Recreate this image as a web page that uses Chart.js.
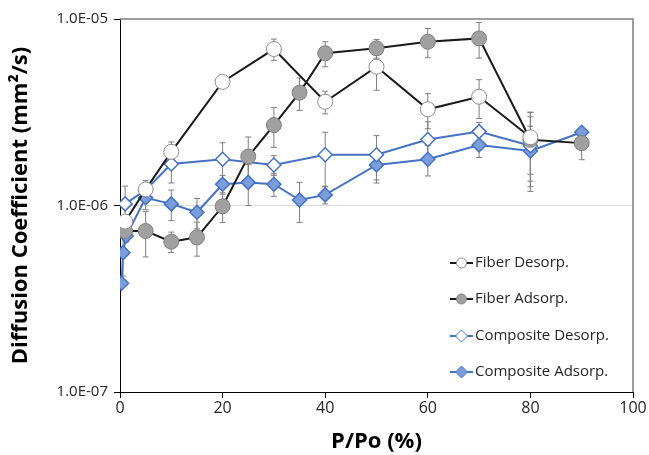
<!DOCTYPE html>
<html>
<head>
<meta charset="utf-8">
<script src="https://cdn.jsdelivr.net/npm/chart.js@4"></script>
<style>
  html, body { margin: 0; padding: 0; background: #fff; }
  #wrap { width: 649px; height: 455px; }
</style>
</head>
<body>
<div id="wrap"><canvas id="chart-diffusion" width="649" height="455"></canvas></div>
<script>
// data (P/Po in %, D in mm2/s, err = +/- bar)
const fiberDesX   = [1, 5, 10, 20, 30, 40, 50, 60, 70, 80];
const fiberDesY   = [8.2e-7, 1.22e-6, 1.94e-6, 4.6e-6, 6.9e-6, 3.6e-6, 5.55e-6, 3.28e-6, 3.83e-6, 2.32e-6];
const fiberDesErr = [0.5e-7, 0.14e-6, 0.25e-6, 0, 0.9e-6, 0.5e-6, 1.4e-6, 0.7e-6, 0.9e-6, 0.85e-6];

const fiberAdsX   = [1, 5, 10, 15, 20, 25, 30, 35, 40, 50, 60, 70, 80, 90];
const fiberAdsY   = [7.3e-7, 7.3e-7, 6.4e-7, 6.75e-7, 9.9e-7, 1.83e-6, 2.7e-6, 4.03e-6, 6.55e-6, 6.96e-6, 7.55e-6, 7.87e-6, 2.25e-6, 2.16e-6];
const fiberAdsErr = [0.4e-7, 2.0e-7, 0.8e-7, 1.4e-7, 1.8e-7, 0.5e-6, 0.65e-6, 0.8e-6, 1.0e-6, 0.8e-6, 1.35e-6, 1.7e-6, 0.9e-6, 0.4e-6];

const compDesX    = [1, 5, 10, 20, 30, 40, 50, 60, 70, 80];
const compDesY    = [1.02e-6, 1.21e-6, 1.67e-6, 1.77e-6, 1.65e-6, 1.87e-6, 1.87e-6, 2.26e-6, 2.49e-6, 2.09e-6];
const compDesErr  = [0.25e-6, 0.1e-6, 0.35e-6, 0.4e-6, 0.2e-6, 0.6e-6, 0.5e-6, 0.55e-6, 0.3e-6, 0.9e-6];

const compAdsX    = [0.3, 0.6, 1.2, 5, 10, 15, 20, 25, 30, 35, 40, 50, 60, 70, 80, 90];
const compAdsY    = [3.83e-7, 5.58e-7, 6.86e-7, 1.1e-6, 1.02e-6, 9.2e-7, 1.3e-6, 1.33e-6, 1.3e-6, 1.07e-6, 1.14e-6, 1.65e-6, 1.77e-6, 2.11e-6, 1.96e-6, 2.47e-6];
const compAdsErr  = [0, 1.4e-7, 0.5e-7, 0.15e-6, 0.19e-6, 0.17e-6, 0.15e-6, 0.33e-6, 0.18e-6, 0.26e-6, 0.12e-6, 0.33e-6, 0.33e-6, 0.3e-6, 0.7e-6, 0];

const seriesNames = ['Fiber Desorp.', 'Fiber Adsorp.', 'Composite Desorp.', 'Composite Adsorp.'];
const xTicks = [0, 20, 40, 60, 80, 100];
const yTicks = [1e-7, 1e-6, 1e-5];

function toPoints(xs, ys) {
    return xs.map((x, i) => ({ x: x, y: ys[i] }));
}

function fmtSci(v) {
    const e = Math.round(Math.log10(v));
    const m = v / Math.pow(10, e);
    const s = Math.abs(e) < 10 ? '0' + Math.abs(e) : '' + Math.abs(e);
    return m.toFixed(1) + 'E' + (e < 0 ? '-' : '+') + s;
}

// error bars, drawn under the markers
const errorBars = {
    id: 'errorBars',
    beforeDatasetsDraw(chart) {
        const ctx = chart.ctx;
        const xs = chart.scales.x, ys = chart.scales.y;
        ctx.save();
        ctx.strokeStyle = '#7f7f7f';
        ctx.lineWidth = 1;
        chart.data.datasets.forEach(ds => {
            ds.data.forEach((p, i) => {
                const e = ds.errs[i];
                if (!e) return;
                const px = xs.getPixelForValue(p.x);
                const top = ys.getPixelForValue(p.y + e);
                const bot = ys.getPixelForValue(Math.max(p.y - e, 1e-8));
                ctx.beginPath();
                ctx.moveTo(px, top); ctx.lineTo(px, bot);
                ctx.moveTo(px - 3, top); ctx.lineTo(px + 3, top);
                ctx.moveTo(px - 3, bot); ctx.lineTo(px + 3, bot);
                ctx.stroke();
            });
        });
        ctx.restore();
    }
};

// frame on top/right + legend inside the plot
const frameLegend = {
    id: 'frameLegend',
    afterDraw(chart) {
        const ctx = chart.ctx;
        const a = chart.chartArea;
        ctx.save();
        ctx.strokeStyle = '#7f7f7f';
        ctx.lineWidth = 1.5;
        ctx.beginPath();
        ctx.moveTo(a.left, a.top); ctx.lineTo(a.right, a.top); ctx.lineTo(a.right, a.bottom);
        ctx.stroke();

        const lx = 450, rows = [263, 299, 336, 372];
        ctx.font = '15px "Open Sans"';
        ctx.textBaseline = 'middle';
        chart.data.datasets.forEach((ds, i) => {
            const y = rows[i];
            ctx.strokeStyle = ds.borderColor;
            ctx.lineWidth = 2;
            ctx.beginPath(); ctx.moveTo(lx, y); ctx.lineTo(lx + 23, y); ctx.stroke();
            ctx.fillStyle = ds.pointBackgroundColor;
            ctx.strokeStyle = ds.pointBorderColor;
            ctx.lineWidth = 1;
            ctx.beginPath();
            if (ds.pointStyle === 'circle') {
                ctx.arc(lx + 11.5, y, 5, 0, Math.PI * 2);
            } else {
                ctx.moveTo(lx + 11.5, y - 6); ctx.lineTo(lx + 17.5, y);
                ctx.lineTo(lx + 11.5, y + 6); ctx.lineTo(lx + 5.5, y); ctx.closePath();
            }
            ctx.fill(); ctx.stroke();
            ctx.fillStyle = '#262626';
            ctx.fillText(ds.label, lx + 25, y);
        });
        ctx.restore();
    }
};

const ctxD = document.getElementById('chart-diffusion').getContext('2d');
const chart_diffusion = new Chart(ctxD, {
    type: 'line',
    data: {
        datasets: [{
            label: seriesNames[0],
            data: toPoints(fiberDesX, fiberDesY),
            errs: fiberDesErr,
            borderColor: '#1a1a1a',
            borderWidth: 2,
            pointStyle: 'circle',
            pointRadius: 7.5,
            pointBackgroundColor: '#ffffff',
            pointBorderColor: '#8c8c8c',
            pointBorderWidth: 1
        }, {
            label: seriesNames[1],
            data: toPoints(fiberAdsX, fiberAdsY),
            errs: fiberAdsErr,
            borderColor: '#1a1a1a',
            borderWidth: 2,
            pointStyle: 'circle',
            pointRadius: 7.5,
            pointBackgroundColor: '#a0a0a0',
            pointBorderColor: '#808080',
            pointBorderWidth: 1
        }, {
            label: seriesNames[2],
            data: toPoints(compDesX, compDesY),
            errs: compDesErr,
            borderColor: '#4472c4',
            borderWidth: 2,
            pointStyle: 'rectRot',
            pointRadius: 7,
            pointBackgroundColor: '#ffffff',
            pointBorderColor: '#4472c4',
            pointBorderWidth: 1.5
        }, {
            label: seriesNames[3],
            data: toPoints(compAdsX, compAdsY),
            errs: compAdsErr,
            borderColor: '#4472c4',
            borderWidth: 2,
            pointStyle: 'rectRot',
            pointRadius: 7,
            pointBackgroundColor: '#7b9ddb',
            pointBorderColor: '#4472c4',
            pointBorderWidth: 1.5
        }]
    },
    options: {
        responsive: false,
        animation: false,
        layout: { padding: { top: 19, right: 16, left: 8, bottom: 0 } },
        plugins: {
            legend: { display: false },
            tooltip: { enabled: false }
        },
        scales: {
            x: {
                type: 'linear',
                min: 0,
                max: 100,
                afterBuildTicks: s => { s.ticks = xTicks.map(v => ({ value: v })); },
                afterFit: s => { s.height = 63; },
                grid: { drawOnChartArea: false, drawTicks: true, tickLength: 6, tickColor: '#000' },
                border: { color: '#000', width: 1 },
                ticks: { color: '#262626', font: { family: 'Open Sans', size: 16 }, padding: 1 },
                title: {
                    display: true,
                    text: 'P/Po (%)',
                    color: '#000',
                    font: { family: 'Open Sans', size: 22, weight: 'bold' },
                    padding: { top: 0, bottom: 0 }
                }
            },
            y: {
                type: 'logarithmic',
                min: 1e-7,
                max: 1e-5,
                afterBuildTicks: s => { s.ticks = yTicks.map(v => ({ value: v })); },
                afterFit: s => { s.width = 112; },
                grid: {
                    color: c => (c.tick && c.tick.value === 1e-6) ? '#d9d9d9' : 'rgba(0,0,0,0)',
                    drawTicks: true,
                    tickLength: 6,
                    tickColor: '#000'
                },
                border: { color: '#000', width: 1 },
                ticks: {
                    color: '#262626',
                    font: { family: 'Open Sans', size: 15 },
                    padding: 6,
                    callback: v => fmtSci(v)
                },
                title: {
                    display: true,
                    text: 'Diffusion Coefficient (mm\u00b2/s)',
                    color: '#000',
                    font: { family: 'Open Sans', size: 22, weight: 'bold' },
                    padding: { top: 0, bottom: 2 }
                }
            }
        }
    },
    plugins: [errorBars, frameLegend]
});
</script>
</body>
</html>
